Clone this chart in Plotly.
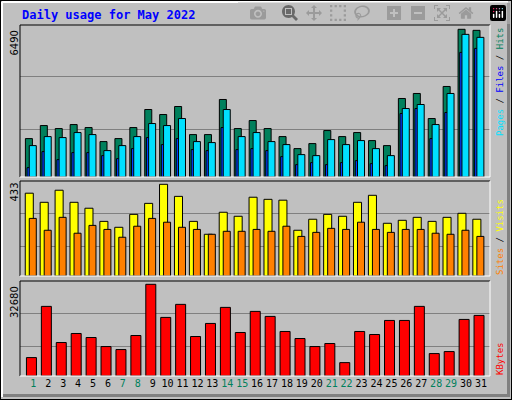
import plotly.graph_objects as go

days = list(range(1, 32))
weekend = [1, 7, 8, 14, 15, 21, 22, 28, 29]

hits = [1688, 2261, 2129, 2305, 2173, 1556, 1688, 2173, 2966, 2745, 3098, 1864, 1864, 3406, 2129, 2481,
        2129, 1776, 1248, 1468, 2041, 1776, 1953, 1600, 1380, 3450, 3670, 2569, 3978, 6490, 6445]
files = [1380, 1776, 1732, 1953, 1864, 1160, 1380, 1776, 2349, 2261, 2569, 1556, 1512, 2965, 1776, 1953,
         1556, 1424, 984, 940, 1644, 1424, 1600, 1248, 940, 3009, 3186, 2305, 3670, 6268, 6136]
pages = [411, 1116, 763, 1072, 1072, 940, 807, 1248, 1732, 1424, 1688, 1204, 1160, 2173, 1204, 1248,
         1160, 895, 543, 631, 543, 631, 719, 587, 499, 2789, 3009, 1688, 2833, 5476, 5652]
visits = [391, 348, 405, 348, 320, 258, 230, 291, 343, 433, 376, 258, 197, 301, 282, 372,
          362, 358, 216, 268, 291, 282, 348, 381, 249, 263, 277, 258, 277, 296, 268]
sites = [272, 216, 277, 202, 239, 220, 183, 235, 272, 254, 230, 220, 197, 211, 211, 220,
         211, 235, 187, 206, 225, 220, 254, 220, 206, 220, 220, 202, 197, 216, 187]
kbytes = [6562, 24814, 11930, 15151, 13720, 10498, 9425, 14435, 32680, 20878, 25530, 14077, 18730, 24456,
          15509, 23025, 21235, 15867, 13362, 10498, 11572, 4772, 15867, 14793, 19804, 19804, 24814,
          7993, 8709, 20162, 21593]

FONT = "DejaVu Sans Mono"
W, H = 512, 400


def px(x, y):
    return x / W, 1 - y / H


line = dict(color="black", width=1)
fig = go.Figure()
fig.add_bar(x=days, y=hits, offset=-0.53, width=0.47, marker=dict(color="#00805C", line=line), yaxis="y")
fig.add_bar(x=days, y=pages, offset=-0.42, width=0.3, marker=dict(color="#0040FF", line=line), yaxis="y")
fig.add_bar(x=days, y=files, offset=-0.27, width=0.47, marker=dict(color="#00E0FF", line=line), yaxis="y")
fig.add_bar(x=days, y=visits, offset=-0.54, width=0.54, marker=dict(color="#FFFF00", line=line), yaxis="y2")
fig.add_bar(x=days, y=sites, offset=-0.27, width=0.47, marker=dict(color="#FF8000", line=line), yaxis="y2")
fig.add_bar(x=days, y=kbytes, offset=-0.46, width=0.67, marker=dict(color="#FF0000", line=line), yaxis="y3")

tops = [6490 * 151.7 / 147.4, 433 * 95 / 91.7, 32680 * 94.7 / 91.4]
domains = [(25, 177), (181, 276), (281, 376)]


def yax(i):
    top = tops[i]
    d = domains[i]
    return dict(range=[0, top], domain=[1 - d[1] / H, 1 - d[0] / H], tickvals=[top * 0.31, top * 0.66],
                showticklabels=False, showgrid=True, gridcolor="#808080", gridwidth=1,
                zeroline=False, fixedrange=True)


ticktext = [f"<span style='color:{'#00805C' if d in weekend else 'black'}'>{d}</span>" for d in days]

fig.update_layout(
    width=W, height=H, margin=dict(l=0, r=0, t=0, b=0),
    paper_bgcolor="#C0C0C0", plot_bgcolor="#C0C0C0",
    barmode="overlay", showlegend=False,
    font=dict(family=FONT, size=9, color="black"),
    xaxis=dict(range=[0.108, 31.61], domain=[20 / W, 490 / W], tickvals=days, ticktext=ticktext,
               showgrid=False, ticks="", tickfont=dict(size=10), anchor="y3"),
    yaxis=yax(0), yaxis2=yax(1), yaxis3=yax(2),
)

shapes = []
# outer bevel
shapes.append(dict(type="rect", xref="paper", yref="paper", x0=0, y0=0, x1=1, y1=1,
                   line=dict(color="black", width=2)))
shapes.append(dict(type="line", xref="paper", yref="paper", x0=px(2, 0)[0], x1=px(2, 0)[0],
                   y0=px(0, 2)[1], y1=px(0, 397)[1], line=dict(color="white", width=2)))
shapes.append(dict(type="line", xref="paper", yref="paper", x0=px(2, 0)[0], x1=px(508, 0)[0],
                   y0=px(0, 2)[1], y1=px(0, 2)[1], line=dict(color="white", width=2)))
shapes.append(dict(type="rect", xref="paper", yref="paper", x0=px(507, 0)[0], x1=px(510, 0)[0],
                   y0=px(0, 397)[1], y1=px(0, 3)[1], fillcolor="#808080", line=dict(width=0)))
shapes.append(dict(type="rect", xref="paper", yref="paper", x0=px(3, 0)[0], x1=px(510, 0)[0],
                   y0=px(0, 397)[1], y1=px(0, 394)[1], fillcolor="#808080", line=dict(width=0)))
# panel borders
for y0, y1 in domains:
    a = px(20, y0)
    b = px(490, y1)
    shapes.append(dict(type="line", xref="paper", yref="paper", x0=a[0], x1=b[0], y0=a[1], y1=a[1], line=line))
    shapes.append(dict(type="line", xref="paper", yref="paper", x0=a[0], x1=a[0], y0=a[1], y1=b[1], line=line))
    shapes.append(dict(type="line", xref="paper", yref="paper", x0=a[0], x1=b[0], y0=b[1], y1=b[1],
                       line=dict(color="white", width=1)))
    shapes.append(dict(type="line", xref="paper", yref="paper", x0=b[0], x1=b[0], y0=a[1], y1=b[1],
                       line=dict(color="white", width=1)))
fig.update_layout(shapes=shapes)

ann = []
x, y = px(20, 15)
ann.append(dict(x=x, y=y, xref="paper", yref="paper", xanchor="left", yanchor="middle", showarrow=False,
                text="<b>Daily usage for May 2022</b>", font=dict(size=12, color="#0000FF")))
for label, ytop in [("6490", 29), ("433", 181), ("32680", 284)]:
    x, y = px(14, ytop)
    ann.append(dict(x=x, y=y, xref="paper", yref="paper", xanchor="center", yanchor="top", showarrow=False,
                    text=label, textangle=-90, font=dict(size=10, family="DejaVu Sans")))
right = [
    ("<span style='color:#00E0FF'>Pages</span> / <span style='color:#0000FF'>Files</span>"
     " / <span style='color:#00805C'>Hits</span>", 82),
    ("<span style='color:#FF8000'>Sites</span> / <span style='color:#FFFF00'>Visits</span>", 237),
    ("<span style='color:#FF0000'>KBytes</span>", 359),
]
for text, yc in right:
    x, y = px(500, yc)
    ann.append(dict(x=x, y=y, xref="paper", yref="paper", xanchor="center", yanchor="middle", showarrow=False,
                    text=text, textangle=-90, font=dict(size=9)))
fig.update_layout(annotations=ann)

fig.write_html("out.html", post_script="document.body.style.margin='0';document.body.style.overflow='hidden';")
